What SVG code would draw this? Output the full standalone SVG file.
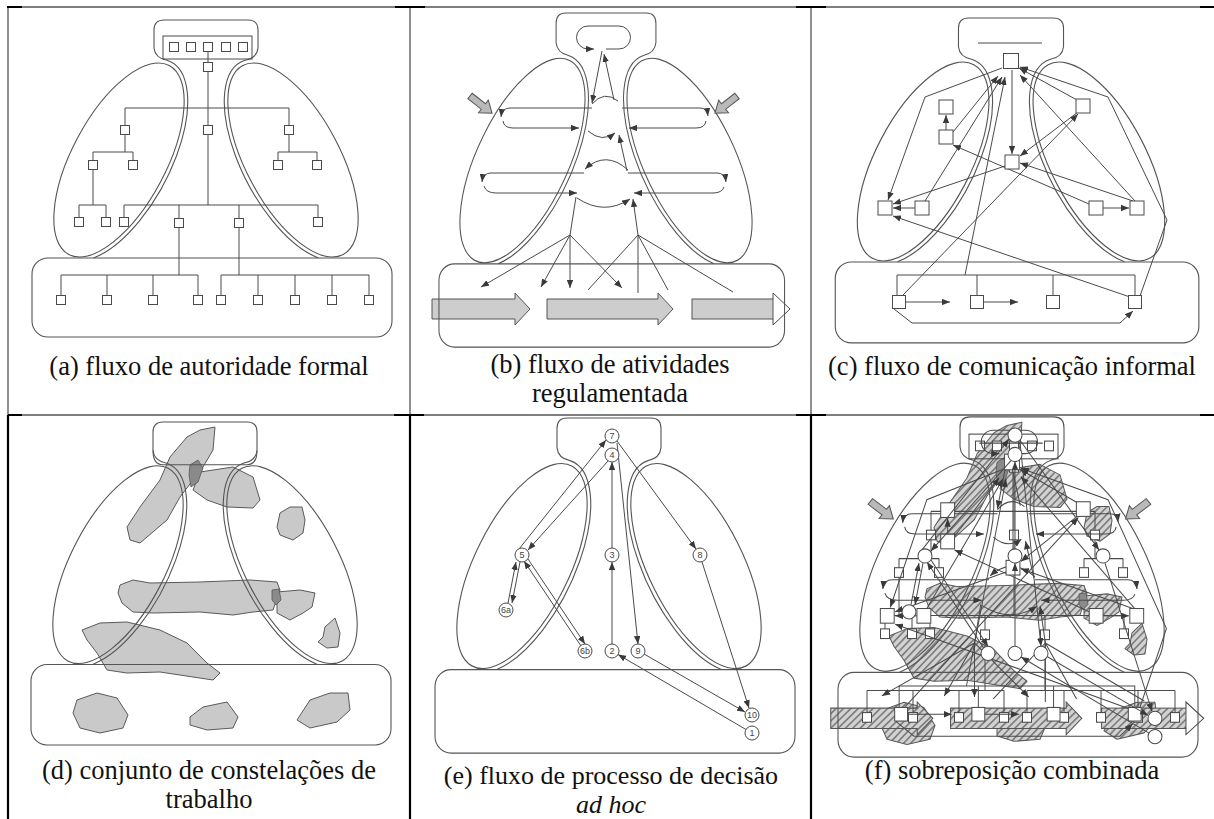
<svg xmlns="http://www.w3.org/2000/svg" xmlns:xlink="http://www.w3.org/1999/xlink" width="1214" height="819" viewBox="0 0 1214 819">
<style>
.fr{fill:none;stroke:#555;stroke-width:1.1}
.ln{fill:none;stroke:#4a4a4a;stroke-width:1}
.ar{marker-end:url(#ah)}
.sq{fill:#fff;stroke:#4a4a4a;stroke-width:1}
.ci{fill:#fff;stroke:#4a4a4a;stroke-width:1}
.cap{font-family:"Liberation Serif","DejaVu Serif","Noto Serif",serif;font-size:26.5px;fill:#111;text-anchor:middle}
.num{font-family:"Liberation Sans",Arial,sans-serif;font-size:9px;text-anchor:middle}
.blob{stroke:#5a5a5a;stroke-width:1;stroke-linejoin:round}
.dk{fill:#8a8a8a;stroke:#555;stroke-width:0.8}
.big{stroke:#555;stroke-width:1}
.tb{stroke:#555;stroke-width:1.3;fill:none}
.tk{stroke:#000;stroke-width:2.2;fill:none}
</style>
<defs>
<marker id="ah" viewBox="0 0 10 8" refX="10" refY="4" markerWidth="8" markerHeight="6.4" markerUnits="userSpaceOnUse" orient="auto">
<path d="M0,0 L10,4 L0,8 z" fill="#3a3a3a"/>
</marker>
<pattern id="hatch" width="5" height="5" patternUnits="userSpaceOnUse" patternTransform="rotate(45)">
<rect width="5" height="5" fill="#d2d2d2"/><rect width="1.6" height="5" fill="#7d7d7d"/>
</pattern>
<g id="frame" class="fr">
<path d="M-112.4,257.9 A51,111 28 0 0 -39,60.3 Q-51,58 -52,48 L-52,30 Q-52,20 -42,20 L42,20 Q52,20 52,30 L52,48 Q51,58 39,60.3 A51,111 -28 0 0 112.4,257.9"/>
<ellipse cx="-87" cy="160" rx="47" ry="107" transform="rotate(28 -87 160)"/>
<ellipse cx="87" cy="160" rx="47" ry="107" transform="rotate(-28 87 160)"/>
<rect x="-174" y="258" width="360" height="79" rx="16"/>
</g>
<path id="shArrow" d="M0,-3.5 H17 V-8 L28,0 L17,8 V3.5 H0 Z"/>
</defs>
<rect width="1214" height="819" fill="#fff"/>

<!-- table grid -->
<g id="table">
<path class="tb" d="M8,7 H1214 M8,415 H1214 M8,7 V415 M410,7 V415 M811,7 V415"/>
<path class="tk" d="M8,415 V819 M410,415 V819 M811,415 V819"/>
<path class="tk" d="M7,7 H22 M395,7 H425 M796,7 H826 M1200,7 H1214 M8,415 H22 M394,415 H424 M796,415 H826 M1200,415 H1214"/>
</g>

<!-- ===== Panel (a) ===== -->
<g id="panel-a">
<use href="#frame" transform="translate(206,0)"/>
<g id="a-content">
<g id="a-connectors" class="ln">
<rect x="163" y="36" width="89" height="23"/>
<path d="M208,51.5 V205 M125,108 H289 M125,108 V130 M289,108 V130 M125,130 V152 M93,152 H133 M93,152 V165 M133,152 V165 M93,165 V205 M79,205 H106 M79,205 V222 M106,205 V222 M124,205 H318 M124,205 V222 M179,205 V223 M239,205 V223 M318,205 V222 M289,130 V152 M278,152 H317 M278,152 V165 M317,152 V165 M179,223 V275 M61,275 H198 M61,275 V300 M107,275 V300 M153,275 V300 M198,275 V300 M239,223 V275 M221,275 H369 M221,275 V300 M258,275 V300 M295,275 V300 M332,275 V300 M369,275 V300"/>
</g>
<g id="a-nodes">
<g id="a-n1"><rect class="sq" x="169.5" y="42.5" width="9" height="9"/></g>
<g id="a-n2"><rect class="sq" x="186.5" y="42.5" width="9" height="9"/></g>
<g id="a-n3"><rect class="sq" x="203.5" y="42.5" width="9" height="9"/></g>
<g id="a-n4"><rect class="sq" x="221.5" y="42.5" width="9" height="9"/></g>
<g id="a-n5"><rect class="sq" x="238.5" y="42.5" width="9" height="9"/></g>
<g id="a-n6"><rect class="sq" x="203.5" y="62.5" width="9" height="9"/></g>
<g id="a-n7"><rect class="sq" x="203.5" y="125.5" width="9" height="9"/></g>
<g id="a-n8"><rect class="sq" x="120.5" y="125.5" width="9" height="9"/></g>
<g id="a-n9"><rect class="sq" x="284.5" y="125.5" width="9" height="9"/></g>
<g id="a-n10"><rect class="sq" x="88.5" y="160.5" width="9" height="9"/></g>
<g id="a-n11"><rect class="sq" x="128.5" y="160.5" width="9" height="9"/></g>
<g id="a-n12"><rect class="sq" x="273.5" y="160.5" width="9" height="9"/></g>
<g id="a-n13"><rect class="sq" x="312.5" y="160.5" width="9" height="9"/></g>
<g id="a-n14"><rect class="sq" x="74.5" y="217.5" width="9" height="9"/></g>
<g id="a-n15"><rect class="sq" x="101.5" y="217.5" width="9" height="9"/></g>
<g id="a-n16"><rect class="sq" x="119.5" y="217.5" width="9" height="9"/></g>
<g id="a-n17"><rect class="sq" x="174.5" y="218.5" width="9" height="9"/></g>
<g id="a-n18"><rect class="sq" x="234.5" y="218.5" width="9" height="9"/></g>
<g id="a-n19"><rect class="sq" x="313.5" y="217.5" width="9" height="9"/></g>
<g id="a-n20"><rect class="sq" x="56.5" y="295.5" width="9" height="9"/></g>
<g id="a-n21"><rect class="sq" x="102.5" y="295.5" width="9" height="9"/></g>
<g id="a-n22"><rect class="sq" x="148.5" y="295.5" width="9" height="9"/></g>
<g id="a-n23"><rect class="sq" x="193.5" y="295.5" width="9" height="9"/></g>
<g id="a-n24"><rect class="sq" x="216.5" y="295.5" width="9" height="9"/></g>
<g id="a-n25"><rect class="sq" x="253.5" y="295.5" width="9" height="9"/></g>
<g id="a-n26"><rect class="sq" x="290.5" y="295.5" width="9" height="9"/></g>
<g id="a-n27"><rect class="sq" x="327.5" y="295.5" width="9" height="9"/></g>
<g id="a-n28"><rect class="sq" x="364.5" y="295.5" width="9" height="9"/></g>
</g>
</g>
<text class="cap" x="209" y="375">(a) fluxo de autoridade formal</text>
</g>

<!-- ===== Panel (b) ===== -->
<g id="panel-b">
<g fill="#cdcdcd">
<g id="b-big" class="big">
<path d="M432,299 H515 V293 L530,309 L515,325 V319 H432 Z"/>
<path d="M547,299 H658 V293 L673,309 L658,325 V319 H547 Z"/>
<rect x="692" y="299" width="81" height="20"/>
</g>
</g>
<use href="#frame" transform="translate(606,-8.1) scale(0.96,1.054)"/>
<g id="b-content">
<g id="b-shaded" fill="#b9b9b9" stroke="#555" stroke-width="1">
<use href="#shArrow" transform="translate(470,96) rotate(38)"/>
<use href="#shArrow" transform="translate(737,96) rotate(142)"/>
</g>
<g id="b-connectors" class="ln">
<path d="M773,299 V293 L790,309 L773,325 V319"/>
<path class="ar" d="M606,49 L619,49 A11.5,11.5 0 0 0 619,26 L588,26 A11.5,11.5 0 0 0 588,49 L594,49"/>
<path class="ar" d="M602,51 L592,103"/>
<path class="ar" d="M614,100 L604,54"/>
<path class="ar" d="M592,108 L510,108 Q502,108 501,117"/>
<path class="ar" d="M503,121 Q504,128 513,128 L579,128"/>
<path class="ar" d="M622,108 L700,108 Q707,108 708,116"/>
<path class="ar" d="M706,121 Q705,128 696,128 L629,128"/>
<path d="M592,104 Q604,90 618,101"/>
<path class="ar" d="M588,131 Q602,143 615,133"/>
<path class="ar" d="M627,171 L619,135"/>
<path class="ar" d="M584,173 L491,173 Q483,173 482,182"/>
<path class="ar" d="M484,186 Q486,193 496,193 L577,193"/>
<path class="ar" d="M628,173 L717,173 Q725,173 726,182"/>
<path class="ar" d="M724,187 Q722,193 713,193 L634,193"/>
<path class="ar" d="M628,170 Q606,150 585,169"/>
<path class="ar" d="M577,198 Q604,216 630,199"/>
<path d="M576,197 L570,235"/>
<path class="ar" d="M570,235 L481,287"/>
<path class="ar" d="M570,235 L541,287"/>
<path class="ar" d="M570,235 L570,288"/>
<path class="ar" d="M570,235 L622,288"/>
<path class="ar" d="M638,235 L633,199"/>
<path d="M588,290 L638,235 M638,293 L638,235 M668,290 L638,235 M733,292 L638,235"/>
</g>
</g>
<text class="cap" x="610" y="373">(b) fluxo de atividades</text>
<text class="cap" x="610" y="402">regulamentada</text>
</g>

<!-- ===== Panel (c) ===== -->
<g id="panel-c">
<use href="#frame" transform="translate(1011,-2.5) scale(1.01,1.025)"/>
<g id="c-content">
<g id="c-connectors" class="ln">
<path d="M978,43 H1042"/>
<path class="ar" d="M1002,68 L925,97 L888,200"/>
<path class="ar" d="M953,132 L998,76"/>
<path class="ar" d="M946,130 L946,115"/>
<path class="ar" d="M925,201 L1002,77"/>
<path class="ar" d="M1012,70 L1012,154"/>
<path class="ar" d="M1078,112 L1020,156"/>
<path class="ar" d="M903,295 L1078,114"/>
<path class="ar" d="M1005,166 L893,204"/>
<path class="ar" d="M1133,201 L1020,163"/>
<path class="ar" d="M1089,204 L953,145"/>
<path class="ar" d="M1103,208 L1129,208"/>
<path class="ar" d="M915,208 L893,208"/>
<path class="ar" d="M1130,297 L893,216"/>
<path class="ar" d="M1140,296 L1167,220 L1108,97 L1020,67"/>
<path class="ar" d="M965,275 L1005,77"/>
<path class="ar" d="M1135,201 L1020,75"/>
<path class="ar" d="M1077,100 L1019,68"/>
<path d="M897,296 V275 H1135 V296 M977,275 V296 M1053,275 V296"/>
<path class="ar" d="M906,302 L950,302"/>
<path class="ar" d="M984,302 L1018,302"/>
<path class="ar" d="M894,309 L912,323 L1120,323 L1133,311"/>
</g>
<g id="c-nodes">
<g id="c-T"><rect class="sq" x="1003.5" y="53.5" width="15" height="15"/></g>
<g id="c-L1"><rect class="sq" x="939" y="100" width="14" height="14"/></g>
<g id="c-L2"><rect class="sq" x="939" y="130" width="14" height="14"/></g>
<g id="c-C"><rect class="sq" x="1005" y="155" width="14" height="14"/></g>
<g id="c-R1"><rect class="sq" x="1076" y="99" width="14" height="14"/></g>
<g id="c-M1"><rect class="sq" x="878" y="201" width="14" height="14"/></g>
<g id="c-M2"><rect class="sq" x="915" y="201" width="14" height="14"/></g>
<g id="c-M3"><rect class="sq" x="1089" y="201" width="14" height="14"/></g>
<g id="c-M4"><rect class="sq" x="1130" y="201" width="14" height="14"/></g>
<g id="c-B1"><rect class="sq" x="892.5" y="295.5" width="13" height="13"/></g>
<g id="c-B2"><rect class="sq" x="970.5" y="295.5" width="13" height="13"/></g>
<g id="c-B3"><rect class="sq" x="1046.5" y="295.5" width="13" height="13"/></g>
<g id="c-B4"><rect class="sq" x="1128.5" y="295.5" width="13" height="13"/></g>
</g>
</g>
<text class="cap" x="1012" y="375">(c) fluxo de comunicação informal</text>
</g>

<!-- ===== Panel (d) ===== -->
<g id="panel-d">
<g fill="#c9c9c9">
<g id="d-blobs" class="blob">
<path d="M215,427 L213,450 L203,467 L180,497 L167,520 L140,543 L130,540 L127,527 L140,507 L160,480 L170,457 L187,437 L200,430 Z"/>
<path d="M200,472 L233,467 L253,477 L260,500 L253,508 L227,507 L207,500 L193,490 Z"/>
<path d="M280,513 L290,507 L302,507 L305,520 L303,533 L293,540 L280,535 L277,527 Z"/>
<path d="M277,592 L300,590 L315,593 L312,607 L303,613 L290,620 L277,613 Z"/>
<path d="M120,585 L133,580 L150,583 L200,582 L250,580 L277,582 L280,590 L273,610 L253,612 L233,615 L200,612 L153,613 L133,612 L122,603 L118,593 Z"/>
<path d="M325,627 L335,618 L340,633 L338,647 L327,648 L318,642 L323,637 Z"/>
<path d="M82,630 L100,623 L127,622 L160,630 L187,643 L207,663 L220,673 L213,680 L193,677 L160,672 L127,673 L107,670 L97,653 L87,640 Z"/>
<path d="M77,700 L97,693 L117,698 L128,715 L123,728 L100,733 L80,728 L73,713 Z"/>
<path d="M190,717 L203,707 L227,702 L238,717 L233,728 L207,730 L190,725 Z"/>
<path d="M297,720 L310,700 L330,693 L348,693 L350,710 L337,722 L310,728 Z"/>
<path class="dk" d="M190,465 L198,460 L203,468 L198,482 L191,487 L189,475 Z"/>
<path class="dk" d="M272,590 L279,589 L281,600 L276,605 L272,600 Z"/>
</g>
</g>
<g transform="translate(205,401.6) scale(1,1.019)">
<use href="#frame"/>
<path class="fr" d="M-52,48 Q-52,62 -42,62 L42,62 Q52,62 52,48"/>
</g>
<text class="cap" x="209" y="779">(d) conjunto de constelações de</text>
<text class="cap" x="209" y="808">trabalho</text>
</g>

<!-- ===== Panel (e) ===== -->
<g id="panel-e">
<use href="#frame" transform="translate(609,396.9) scale(1,1.057)"/>
<g id="e-connectors" class="ln">
<path class="ar" d="M746,729.5 L618,654.5"/>
<path class="ar" d="M612,644 L612,562"/>
<path class="ar" d="M612,548 L612,462"/>
<path class="ar" d="M608,461 L528,550"/>
<path class="ar" d="M519,549 L606,440"/>
<path class="ar" d="M508,603 L516,562"/>
<path class="ar" d="M520,562 L512,603"/>
<path class="ar" d="M581,646 L524,561"/>
<path class="ar" d="M528,559 L585,644"/>
<path class="ar" d="M617,443 L638,644"/>
<path class="ar" d="M617,441 L696,549"/>
<path class="ar" d="M702,562 L749,708"/>
<path class="ar" d="M644,654 L745,712"/>
</g>
<g fill="#444">
<g id="e-nodes">
<g id="e-n7"><circle class="ci" cx="612" cy="436" r="7"/><text class="num" x="612" y="439.2">7</text></g>
<g id="e-n4"><circle class="ci" cx="612" cy="455" r="7"/><text class="num" x="612" y="458.2">4</text></g>
<g id="e-n5"><circle class="ci" cx="522" cy="555" r="7"/><text class="num" x="522" y="558.2">5</text></g>
<g id="e-n3"><circle class="ci" cx="612" cy="555" r="7"/><text class="num" x="612" y="558.2">3</text></g>
<g id="e-n8"><circle class="ci" cx="700" cy="555" r="7"/><text class="num" x="700" y="558.2">8</text></g>
<g id="e-n6a"><circle class="ci" cx="506" cy="610" r="7"/><text class="num" x="506" y="613.2">6a</text></g>
<g id="e-n6b"><circle class="ci" cx="585" cy="651" r="7"/><text class="num" x="585" y="654.2">6b</text></g>
<g id="e-n2"><circle class="ci" cx="612" cy="651" r="7"/><text class="num" x="612" y="654.2">2</text></g>
<g id="e-n9"><circle class="ci" cx="638" cy="651" r="7"/><text class="num" x="638" y="654.2">9</text></g>
<g id="e-n10"><circle class="ci" cx="752" cy="715" r="7"/><text class="num" x="752" y="718.2">10</text></g>
<g id="e-n1"><circle class="ci" cx="752" cy="733" r="7"/><text class="num" x="752" y="736.2">1</text></g>
</g>
</g>
<text class="cap" x="611" y="784" style="font-size:26px">(e) fluxo de processo de decisão</text>
<text class="cap" x="611" y="813" style="font-size:26px" font-style="italic">ad hoc</text>
</g>

<!-- ===== Panel (f) : superposition ===== -->
<g id="panel-f">
<use href="#d-blobs" fill="url(#hatch)" transform="translate(1012,395.5) scale(1,1.053) translate(-205,-401.6)"/>
<use href="#b-big" fill="url(#hatch)" transform="translate(1012,395.5) scale(1.0417,1.018) translate(-606,8.1)"/>
<use href="#frame" transform="translate(1012,395.5) scale(1,1.073)"/>
<use href="#a-content" transform="translate(1012,395.5) scale(1,1.073) translate(-206,0)"/>
<use href="#b-content" transform="translate(1012,395.5) scale(1.0417,1.018) translate(-606,8.1)"/>
<use href="#c-content" transform="translate(1012,395.5) scale(0.990,1.0468) translate(-1011,2.5)"/>
<use href="#e-connectors" transform="translate(1012,395.5) scale(1,1.0151) translate(-609,-396.9)"/>
<use href="#e-nodes" fill="none" transform="translate(1012,395.5) scale(1,1.0151) translate(-609,-396.9)"/>
<text class="cap" x="1012" y="779">(f) sobreposição combinada</text>
</g>
</svg>
